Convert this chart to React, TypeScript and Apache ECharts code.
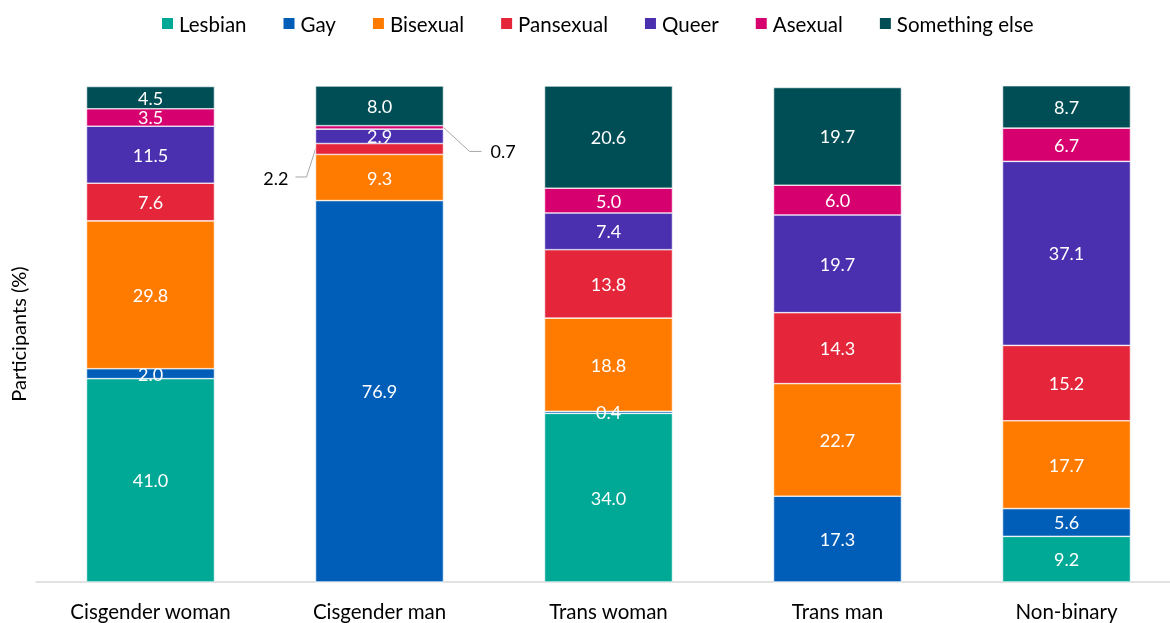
import React, { useEffect, useRef } from "react";
import * as echarts from "echarts";

const categories = ["Cisgender woman", "Cisgender man", "Trans woman", "Trans man", "Non-binary"];
const seriesNames = ["Lesbian", "Gay", "Bisexual", "Pansexual", "Queer", "Asexual", "Something else"];
const lesbian = [41.0, 0, 34.0, 0, 9.2];
const gay = [2.0, 76.9, 0.4, 17.3, 5.6];
const bisexual = [29.8, 9.3, 18.8, 22.7, 17.7];
const pansexual = [7.6, 2.2, 13.8, 14.3, 15.2];
const queer = [11.5, 2.9, 7.4, 19.7, 37.1];
const asexual = [3.5, 0.7, 5.0, 6.0, 6.7];
const somethingElse = [4.5, 8.0, 20.6, 19.7, 8.7];
const colors = ["#00A896", "#005EB8", "#FF7B00", "#E4253A", "#4A2FAF", "#D6006E", "#004E55"];

const FONT = "Lato";

export default function App() {
  const ref = useRef<HTMLDivElement>(null);
  useEffect(() => {
    if (!ref.current) return;
    const chart = echarts.init(ref.current, null, { renderer: "svg" });
    const allData = [lesbian, gay, bisexual, pansexual, queer, asexual, somethingElse];
    const BAR_W = 128;
    const series = allData.map((vals, si) => ({
      name: seriesNames[si],
      type: "bar",
      stack: "total",
      barWidth: BAR_W,
      itemStyle: { color: colors[si], borderColor: "#ffffff", borderWidth: 0.6 },
      label: {
        show: true,
        position: "inside",
        color: "#ffffff",
        fontFamily: FONT,
        fontSize: 18,
        formatter: (p: any) => (p.value === 0 ? "" : Number(p.value).toFixed(1)),
      },
      data: vals.map((v, di) => {
        if (di === 1 && si === 3) {
          return {
            value: v,
            label: { position: [-27, 34], align: "right", verticalAlign: "middle", color: "#000000" },
          };
        }
        if (di === 1 && si === 5) {
          return {
            value: v,
            label: { position: [BAR_W + 47, 25], align: "left", verticalAlign: "middle", color: "#000000" },
          };
        }
        return v;
      }),
    }));

    chart.setOption({
      animation: false,
      color: colors,
      textStyle: { fontFamily: FONT },
      legend: {
        top: 13,
        left: 160,
        padding: 0,
        itemWidth: 13,
        itemHeight: 13,
        itemGap: 35,
        icon: "rect",
        textStyle: { fontFamily: FONT, fontSize: 20.5, color: "#000000" },
        data: seriesNames,
      },
      grid: { left: 36, width: 1145, top: 86, bottom: 41, outerBoundsMode: "none", containLabel: false },
      xAxis: {
        type: "category",
        data: categories,
        axisLine: { lineStyle: { color: "#d9d9d9", width: 1.5 } },
        axisTick: { show: false },
        axisLabel: { color: "#000000", fontFamily: FONT, fontSize: 20.5, margin: 18 },
      },
      yAxis: {
        type: "value",
        min: 0,
        max: 100,
        show: true,
        axisLine: { show: false },
        axisTick: { show: false },
        axisLabel: { show: false },
        splitLine: { show: false },
        name: "Participants (%)",
        nameLocation: "middle",
        nameRotate: 90,
        nameGap: 8,
        nameTextStyle: { color: "#000000", fontFamily: FONT, fontSize: 20 },
      },
      series,
    });

    // leader lines for small Cisgender man segments, from the library's scales
    const segCenter = (si: number, di: number) => {
      let base = 0;
      for (let k = 0; k < si; k++) base += allData[k][di];
      const mid = base + allData[si][di] / 2;
      return chart.convertToPixel({ gridIndex: 0 }, [di, mid]) as number[];
    };
    const p1 = segCenter(3, 1);
    const left = p1[0] - BAR_W / 2;
    const p2 = segCenter(5, 1);
    const right = p2[0] + BAR_W / 2;
    const lineStyle = { stroke: "#a6a6a6", lineWidth: 1, fill: "none" };
    chart.setOption({
      graphic: [
        {
          type: "polyline",
          shape: { points: [[left, p1[1]], [left - 9, p1[1] + 28], [left - 20, p1[1] + 28]] },
          style: lineStyle,
          silent: true,
        },
        {
          type: "polyline",
          shape: { points: [[right, p2[1]], [right + 26, p2[1] + 24], [right + 38, p2[1] + 24]] },
          style: lineStyle,
          silent: true,
        },
      ],
    });

    return () => chart.dispose();
  }, []);
  return <div ref={ref} style={{ position: "fixed", left: 0, top: 0, width: 1170, height: 623 }} />;
}
